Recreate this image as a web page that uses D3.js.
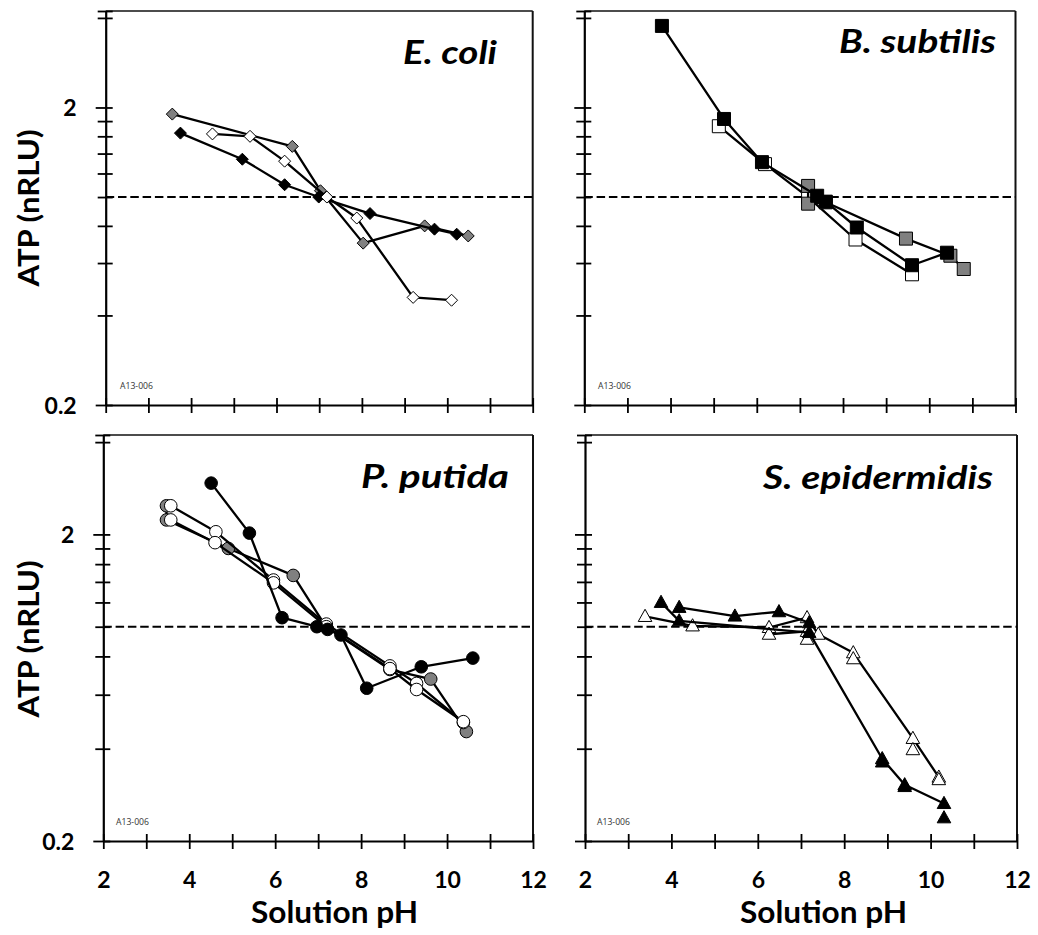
<!DOCTYPE html>
<html>
<head>
<meta charset="utf-8">
<script src="https://cdn.jsdelivr.net/npm/d3@7"></script>
<style>
  html, body { margin: 0; padding: 0; background: #ffffff; }
  svg { display: block; }
</style>
</head>
<body>
<svg id="chart" width="1038" height="935"></svg>
<script>
// ---------------- DATA ----------------
const phTicks = [2, 3, 4, 5, 6, 7, 8, 9, 10, 11, 12];
const phTickLabels = [2, 4, 6, 8, 10, 12];
const atpTicks = [0.2, 0.4, 0.6, 0.8, 1.0, 1.2, 1.4, 1.6, 1.8, 2, 4];
const atpTickLabels = [0.2, 2];
const atpMax = 4.22;
const atpReference = 1;

const panelTitles = ["E. coli", "B. subtilis", "P. putida", "S. epidermidis"];
const xAxisTitle = "Solution pH";
const yAxisTitle = "ATP (nRLU)";
const sampleCode = "A13-006";

// E. coli (diamonds)
const ecoliGrayPH = [3.56, 6.37, 7.03, 8.03, 9.47, 10.49];
const ecoliGrayATP = [1.90, 1.48, 1.05, 0.70, 0.80, 0.74];
const ecoliBlackPH = [3.75, 5.20, 6.19, 6.99, 8.19, 9.70, 10.22];
const ecoliBlackATP = [1.64, 1.34, 1.10, 1.00, 0.88, 0.78, 0.75];
const ecoliWhitePH = [4.50, 5.38, 6.19, 7.18, 7.88, 9.20, 10.10];
const ecoliWhiteATP = [1.63, 1.60, 1.32, 1.00, 0.85, 0.46, 0.45];

// B. subtilis (squares)
const bsubWhitePH = [5.12, 6.19, 7.19, 8.29, 9.60];
const bsubWhiteATP = [1.73, 1.29, 1.00, 0.72, 0.55];
const bsubGrayPH = [7.19, 7.19, 7.60, 9.46, 10.49, 10.80];
const bsubGrayATP = [1.09, 0.95, 0.96, 0.725, 0.635, 0.573];
const bsubBlackPH = [3.80, 5.24, 6.12, 7.40, 7.60, 8.32, 9.60, 10.41];
const bsubBlackATP = [3.76, 1.83, 1.31, 1.01, 0.965, 0.79, 0.59, 0.65];

// P. putida (circles)
const pputGrayPH = [3.47, 3.47, 4.91, 6.42, 7.18, 8.67, 9.62, 10.45];
const pputGrayATP = [2.48, 2.23, 1.80, 1.47, 1.00, 0.725, 0.675, 0.455];
const pputWhiteAPH = [3.57, 4.62, 5.96, 7.19, 8.67, 9.29, 10.38];
const pputWhiteAATP = [2.48, 2.04, 1.42, 1.02, 0.745, 0.653, 0.487];
const pputWhiteBPH = [3.57, 4.60, 5.96, 7.19, 8.67, 9.29, 10.38];
const pputWhiteBATP = [2.23, 1.88, 1.39, 1.00, 0.73, 0.624, 0.49];
const pputBlackPH = [4.51, 5.40, 6.16, 6.97, 7.22, 7.53, 8.13, 9.40, 10.60];
const pputBlackATP = [2.94, 2.02, 1.07, 1.00, 0.98, 0.94, 0.63, 0.74, 0.79];

// S. epidermidis (triangles)
const sepiWhiteAPH = [3.39, 4.49, 6.26, 7.14, 7.40, 8.21, 9.59, 10.19];
const sepiWhiteAATP = [1.08, 1.006, 0.994, 1.07, 0.945, 0.822, 0.432, 0.323];
const sepiWhiteBPH = [6.26, 7.14];
const sepiWhiteBATP = [0.945, 0.965];
const sepiWhiteCPH = [7.14, 8.21, 9.59, 10.19];
const sepiWhiteCATP = [0.91, 0.786, 0.397, 0.317];
const sepiBlackAPH = [3.76, 4.18, 7.19, 8.88, 9.40, 10.31];
const sepiBlackAATP = [1.20, 1.045, 0.957, 0.371, 0.305, 0.265];
const sepiBlackBPH = [4.18, 5.47, 6.49, 7.19];
const sepiBlackBATP = [1.156, 1.083, 1.119, 1.03];
const sepiBlackCPH = [8.88, 9.40, 10.31];
const sepiBlackCATP = [0.362, 0.301, 0.238];

// ---------------- STYLE / LAYOUT ----------------
const BLACK = "#000000", GRAY = "#808080", WHITE = "#ffffff";
const FONT = "Lato, 'Open Sans', 'DejaVu Sans', sans-serif";

const zip = (a, b) => a.map((v, i) => [v, b[i]]);

const panels = [
  { title: panelTitles[0], x0: 105.7, x1: 532.7, yb: 405, yt: 11, titleX: 403, titleW: 94, titleY: 64,
    left: true, bottom: false, codeX: 120, codeY: 389,
    series: [
      { pts: zip(ecoliGrayPH, ecoliGrayATP), shape: "diamond", fill: GRAY, line: true },
      { pts: zip(ecoliBlackPH, ecoliBlackATP), shape: "diamond", fill: BLACK, line: true },
      { pts: zip(ecoliWhitePH, ecoliWhiteATP), shape: "diamond", fill: WHITE, line: true }
    ] },
  { title: panelTitles[1], x0: 584.3, x1: 1015.5, yb: 405, yt: 11, titleX: 839, titleW: 157, titleY: 53,
    left: false, bottom: false, codeX: 598, codeY: 389,
    series: [
      { pts: zip(bsubWhitePH, bsubWhiteATP), shape: "square", fill: WHITE, line: true },
      { pts: zip(bsubGrayPH, bsubGrayATP), shape: "square", fill: GRAY, line: true },
      { pts: zip(bsubBlackPH, bsubBlackATP), shape: "square", fill: BLACK, line: true }
    ] },
  { title: panelTitles[2], x0: 103.3, x1: 533, yb: 841, yt: 435, titleX: 361, titleW: 148, titleY: 488,
    left: true, bottom: true, codeX: 116, codeY: 825, xTitleX: 251,
    series: [
      { pts: zip(pputGrayPH, pputGrayATP), shape: "circle", fill: GRAY, line: true },
      { pts: zip(pputWhiteAPH, pputWhiteAATP), shape: "circle", fill: WHITE, line: true },
      { pts: zip(pputWhiteBPH, pputWhiteBATP), shape: "circle", fill: WHITE, line: true },
      { pts: zip(pputBlackPH, pputBlackATP), shape: "circle", fill: BLACK, line: true }
    ] },
  { title: panelTitles[3], x0: 585, x1: 1017, yb: 841, yt: 435, titleX: 763, titleW: 230, titleY: 489,
    left: false, bottom: true, codeX: 597, codeY: 825, xTitleX: 740,
    series: [
      { pts: zip(sepiWhiteAPH, sepiWhiteAATP), shape: "triangle", fill: WHITE, line: true },
      { pts: zip(sepiWhiteBPH, sepiWhiteBATP), shape: "triangle", fill: WHITE, line: true },
      { pts: zip(sepiWhiteCPH, sepiWhiteCATP), shape: "triangle", fill: WHITE, line: false },
      { pts: zip(sepiBlackAPH, sepiBlackAATP), shape: "triangle", fill: BLACK, line: true },
      { pts: zip(sepiBlackBPH, sepiBlackBATP), shape: "triangle", fill: BLACK, line: true },
      { pts: zip(sepiBlackCPH, sepiBlackCATP), shape: "triangle", fill: BLACK, line: false }
    ] }
];

function markerPath(shape) {
  switch (shape) {
    case "diamond": { const r = 6; return `M0,${-r}L${r},0L0,${r}L${-r},0Z`; }
    case "square": { const h = 6.5; return `M${-h},${-h}H${h}V${h}H${-h}Z`; }
    case "circle": { const r = 6.3; return `M${r},0A${r},${r} 0 1,1 ${-r},0A${r},${r} 0 1,1 ${r},0Z`; }
    case "triangle": { const w = 6.8, t = 7.2, b = 5; return `M0,${-t}L${w},${b}L${-w},${b}Z`; }
  }
}

const svg = d3.select("#chart");
svg.append("rect").attr("width", 1038).attr("height", 935).attr("fill", "#fff");

panels.forEach(p => {
  const x = d3.scaleLinear().domain([phTicks[0], phTicks[phTicks.length - 1]]).range([p.x0, p.x1]);
  const y = d3.scaleLog().domain([atpTicks[0], atpMax]).range([p.yb, p.yt]);
  const g = svg.append("g");

  // frame (top & right)
  g.append("line").attr("x1", p.x0).attr("x2", p.x1).attr("y1", p.yt).attr("y2", p.yt)
    .attr("stroke", "#111").attr("stroke-width", 1.6);
  g.append("line").attr("x1", p.x1).attr("x2", p.x1).attr("y1", p.yt).attr("y2", p.yb)
    .attr("stroke", "#111").attr("stroke-width", 2);

  // reference dashed line
  g.append("line").attr("x1", p.x0).attr("x2", p.x1).attr("y1", y(atpReference)).attr("y2", y(atpReference))
    .attr("stroke", "#000").attr("stroke-width", 2).attr("stroke-dasharray", "8.5,3.8");

  // x axis
  const xAxis = d3.axisBottom(x).tickValues(phTicks).tickSize(8).tickSizeOuter(0)
    .tickFormat(d => (p.bottom && phTickLabels.includes(d)) ? d : "");
  const gx = g.append("g").attr("transform", `translate(0,${p.yb})`).call(xAxis);
  gx.select(".domain").attr("stroke", "#000").attr("stroke-width", 2.2);
  gx.selectAll(".tick line").attr("y1", -7).attr("y2", 8).attr("stroke", "#000").attr("stroke-width", 1.8);
  gx.selectAll(".tick text").attr("y", 888 - p.yb).attr("dy", 0)
    .attr("font-family", FONT).attr("font-weight", 700).attr("font-size", 23).attr("fill", "#000");

  // y axis
  const yTickVals = atpTicks.concat([atpMax]);
  const yAxis = d3.axisLeft(y).tickValues(yTickVals).tickSize(8).tickSizeOuter(0)
    .tickFormat(d => (p.left && atpTickLabels.includes(d)) ? d : "");
  const gy = g.append("g").attr("transform", `translate(${p.x0},0)`).call(yAxis);
  gy.select(".domain").attr("stroke", "#000").attr("stroke-width", 2.2);
  gy.selectAll(".tick line")
    .attr("x1", 7).attr("x2", d => atpTickLabels.includes(d) ? -10 : -8)
    .attr("stroke", "#000").attr("stroke-width", 1.8);
  gy.selectAll(".tick text").attr("x", -29).attr("dy", "0.36em")
    .attr("font-family", FONT).attr("font-weight", 700).attr("font-size", 23).attr("fill", "#000");

  // series
  const line = d3.line().x(d => x(d[0])).y(d => y(d[1]));
  p.series.forEach(s => {
    const sg = g.append("g");
    if (s.line) {
      sg.append("path").datum(s.pts).attr("d", line)
        .attr("fill", "none").attr("stroke", "#000").attr("stroke-width", 2.3).attr("stroke-linejoin", "round");
    }
    sg.selectAll("path.mk").data(s.pts).join("path").attr("class", "mk")
      .attr("d", markerPath(s.shape))
      .attr("transform", d => `translate(${x(d[0])},${y(d[1])})`)
      .attr("fill", s.fill).attr("stroke", "#000").attr("stroke-width", 1);
  });

  // title
  g.append("text").attr("x", p.titleX).attr("y", p.titleY).text(p.title)
    .attr("font-family", FONT).attr("font-weight", 700).attr("font-style", "italic").attr("font-size", 32)
    .attr("textLength", p.titleW).attr("lengthAdjust", "spacingAndGlyphs").attr("fill", "#000");

  // code
  g.append("text").attr("x", p.codeX).attr("y", p.codeY).text(sampleCode)
    .attr("font-family", "'Open Sans', sans-serif").attr("font-size", 8.5).attr("fill", "#333")
    .attr("textLength", 33).attr("lengthAdjust", "spacingAndGlyphs");

  // y axis title
  if (p.left) {
    const cy = (p.yt + p.yb) / 2 - (p.bottom ? -1 : -1);
    g.append("text").attr("transform", `translate(28,${p.bottom ? 639 : 208}) rotate(-90)`)
      .attr("text-anchor", "middle").attr("dominant-baseline", "central").text(yAxisTitle)
      .attr("font-family", FONT).attr("font-weight", 700).attr("font-size", 28)
      .attr("textLength", 157).attr("lengthAdjust", "spacingAndGlyphs").attr("fill", "#000");
  }
  // x axis title
  if (p.bottom) {
    g.append("text").attr("x", p.xTitleX).attr("y", 923).text(xAxisTitle)
      .attr("font-family", FONT).attr("font-weight", 700).attr("font-size", 31)
      .attr("textLength", 167).attr("lengthAdjust", "spacingAndGlyphs").attr("fill", "#000");
  }
});
</script>
</body>
</html>
